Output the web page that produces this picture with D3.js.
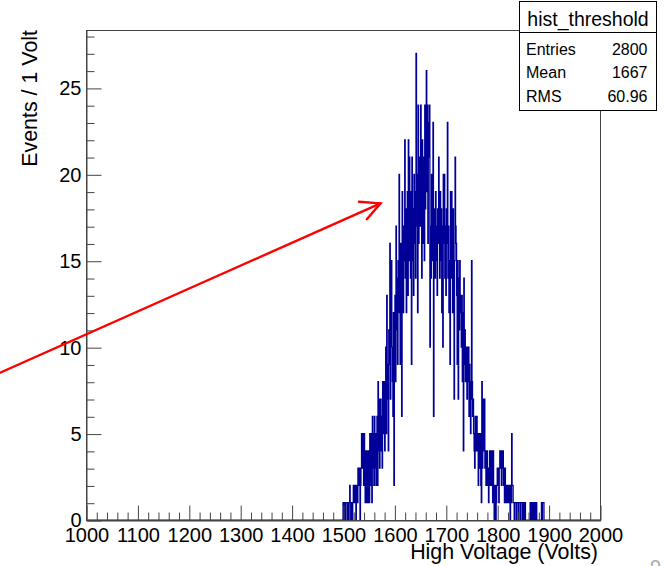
<!DOCTYPE html>
<html>
<head>
<meta charset="utf-8">
<script src="https://cdn.jsdelivr.net/npm/d3@7"></script>
<style>
  html, body { margin: 0; padding: 0; background: #fff; }
  svg { display: block; font-family: "Liberation Sans", Arial, Helvetica, sans-serif; }
</style>
</head>
<body>
<svg id="chart" width="664" height="566"></svg>
<script>
// ---------------- data ----------------
const histTitle = "hist_threshold";
const xRange = [1000, 2000];          // axis range (Volts), 1 V bins
const yMax = 28.35;
const firstBin = 1500;                 // low edge of first listed bin
// counts per 1-volt bin, starting at 1500 V (all other bins are empty)
const counts = [
  1,1,0,1,1,0,1,1,1,0,
  1,0,1,2,1,0,1,1,0,1,
  2,1,2,2,1,0,2,1,1,3,
  3,2,3,0,2,3,5,3,4,5,
  2,5,3,1,4,1,1,4,2,1,
  4,1,5,2,5,3,1,6,3,5,
  2,6,3,5,2,4,6,2,8,4,
  7,3,5,7,4,6,3,8,5,7,
  8,4,6,10,5,13,7,9,4,11,
  9,16,7,12,15,10,8,6,12,2,
  10,13,8,17,11,14,9,15,12,20,
  13,9,16,11,6,19,14,12,17,15,
  22,14,18,12,16,19,13,22,15,21,
  17,14,19,9,21,15,18,13,20,16,
  19,14,27,17,20,12,24,16,21,18,
  17,24,19,14,22,16,20,21,15,24,
  18,22,26,19,24,16,23,21,24,10,
  17,14,20,15,19,23,6,18,16,14,
  19,15,17,13,18,16,21,17,14,19,
  15,18,12,17,10,20,16,20,14,17,
  13,18,16,23,14,17,12,15,9,19,
  14,19,16,12,18,13,7,15,21,17,
  16,13,9,15,7,14,11,15,12,13,
  10,13,8,12,4,14,9,11,8,10,
  9,7,10,8,10,6,9,8,5,7,
  15,8,6,7,5,4,3,6,5,4,
  6,4,5,2,5,3,4,5,2,1,
  8,3,5,7,4,7,3,4,2,3,
  4,2,3,1,3,4,2,4,3,2,
  4,1,4,2,0,1,2,0,1,2,
  3,2,3,1,3,4,3,4,2,4,
  3,4,2,3,1,3,2,1,2,2,
  1,2,2,1,2,0,2,1,5,2,
  2,1,1,0,1,1,1,0,1,1,
  1,0,1,1,1,0,1,1,1,0,
  1,1,0,1,1,0,0,0,0,0,
  0,0,0,0,1,1,0,1,1,0,
  1,0,1,1,0,1,1,0,0,0,
  0,0,0,0,0,0,1,0,1,1,
  1,0,0,0,0,0,0,0,0,0
];
const xMajorTicks = [1000,1100,1200,1300,1400,1500,1600,1700,1800,1900,2000];
const yMajorTicks = [0,5,10,15,20,25];
const xTitle = "High Voltage (Volts)";
const yTitle = "Events / 1 Volt";
const statNames = ["Entries", "Mean", "RMS"];
const statValues = ["2800", "1667", "60.96"];

// ---------------- layout ----------------
const svg = d3.select("#chart");
const frame = { left: 86, right: 600, top: 30, bottom: 520 };
const x = d3.scaleLinear().domain(xRange).range([frame.left, frame.right]);
const y = d3.scaleLinear().domain([0, yMax]).range([frame.bottom, frame.top]);
const axisColor = "#444";
const labelSize = 20;

// full bin list
const bins = [];
for (let v = xRange[0]; v < xRange[1]; v++) {
  const i = v - firstBin;
  bins.push({ lo: v, c: (i >= 0 && i < counts.length) ? counts[i] : 0 });
}
bins.push({ lo: xRange[1], c: bins[bins.length - 1].c });

// histogram outline
const line = d3.line()
  .x(d => x(d.lo))
  .y(d => y(d.c))
  .curve(d3.curveStepAfter);
svg.append("path")
  .attr("d", line(bins))
  .attr("fill", "none")
  .attr("stroke", "#000099")
  .attr("stroke-width", 1.25);

// frame
svg.append("rect")
  .attr("x", frame.left + 0.5).attr("y", frame.top + 0.5)
  .attr("width", frame.right - frame.left).attr("height", frame.bottom - frame.top)
  .attr("fill", "none").attr("stroke", axisColor).attr("stroke-width", 1);

// x axis
const xMinor = d3.range(xRange[0], xRange[1] + 1, 20).filter(v => !xMajorTicks.includes(v));
const gx = svg.append("g").attr("transform", `translate(0.5,${frame.bottom + 0.5})`);
gx.call(d3.axisBottom(x).tickValues(xMinor).tickSizeInner(-8).tickSizeOuter(0).tickFormat(""));
gx.call(g => g.selectAll(".domain").remove());
const gx2 = svg.append("g").attr("transform", `translate(0.5,${frame.bottom + 0.5})`);
gx2.call(d3.axisBottom(x).tickValues(xMajorTicks).tickSizeInner(-15).tickSizeOuter(0).tickPadding(7).tickFormat(d3.format("d")));
gx2.call(g => g.select(".domain").attr("stroke", axisColor));
[gx, gx2].forEach(g => {
  g.selectAll("line").attr("stroke", axisColor);
  g.selectAll("text").attr("font-size", labelSize).attr("fill", "#000")
    .attr("font-family", "Liberation Sans, Arial, sans-serif");
});

// y axis
const yMinor = d3.range(0, 29, 1).filter(v => !yMajorTicks.includes(v));
const gy = svg.append("g").attr("transform", `translate(${frame.left + 0.5},0.5)`);
gy.call(d3.axisLeft(y).tickValues(yMinor).tickSizeInner(-8).tickSizeOuter(0).tickFormat(""));
gy.call(g => g.selectAll(".domain").remove());
const gy2 = svg.append("g").attr("transform", `translate(${frame.left + 0.5},0.5)`);
gy2.call(d3.axisLeft(y).tickValues(yMajorTicks).tickSizeInner(-15).tickSizeOuter(0).tickPadding(5).tickFormat(d3.format("d")));
gy2.call(g => g.select(".domain").attr("stroke", axisColor));
[gy, gy2].forEach(g => {
  g.selectAll("line").attr("stroke", axisColor);
  g.selectAll("text").attr("font-size", labelSize).attr("fill", "#000")
    .attr("font-family", "Liberation Sans, Arial, sans-serif");
});

// axis titles
svg.append("text")
  .attr("x", 598).attr("y", 559)
  .attr("text-anchor", "end")
  .attr("font-size", 21.4)
  .text(xTitle);
svg.append("text")
  .attr("transform", `translate(37,${frame.top}) rotate(-90)`)
  .attr("text-anchor", "end")
  .attr("font-size", 21.4)
  .text(yTitle);

// red arrow (annotation)
const arrow = svg.append("g").attr("stroke", "#ff0000").attr("stroke-width", 2.4)
  .attr("fill", "none").attr("stroke-linecap", "round");
arrow.append("line").attr("x1", -10).attr("y1", 377.2).attr("x2", 380.5).attr("y2", 203.4);
arrow.append("path").attr("d", "M359,201.8 L380.5,203.4 L366.8,219.2");

// stats box
const box = { x0: 519.5, x1: 656.5, y0: 1.5, y1: 110.5, div: 32.5 };
svg.append("rect")
  .attr("x", box.x0).attr("y", box.y0)
  .attr("width", box.x1 - box.x0).attr("height", box.y1 - box.y0)
  .attr("fill", "#fff").attr("stroke", "#000").attr("stroke-width", 1);
svg.append("line")
  .attr("x1", box.x0).attr("x2", box.x1).attr("y1", box.div).attr("y2", box.div)
  .attr("stroke", "#000").attr("stroke-width", 1);
svg.append("text")
  .attr("x", (box.x0 + box.x1) / 2).attr("y", 26)
  .attr("text-anchor", "middle").attr("font-size", 19.5)
  .text(histTitle);
const rowBase = [55, 77.5, 102];
statNames.forEach((n, i) => {
  svg.append("text").attr("x", 526).attr("y", rowBase[i]).attr("font-size", 16).text(n);
  svg.append("text").attr("x", 647.5).attr("y", rowBase[i]).attr("font-size", 16)
    .attr("text-anchor", "end").text(statValues[i]);
});

// cut-off grey glyph at the bottom-right corner
svg.append("text").attr("x", 650).attr("y", 574).attr("font-size", 20)
  .attr("fill", "#aaa").text("9");
</script>
</body>
</html>
